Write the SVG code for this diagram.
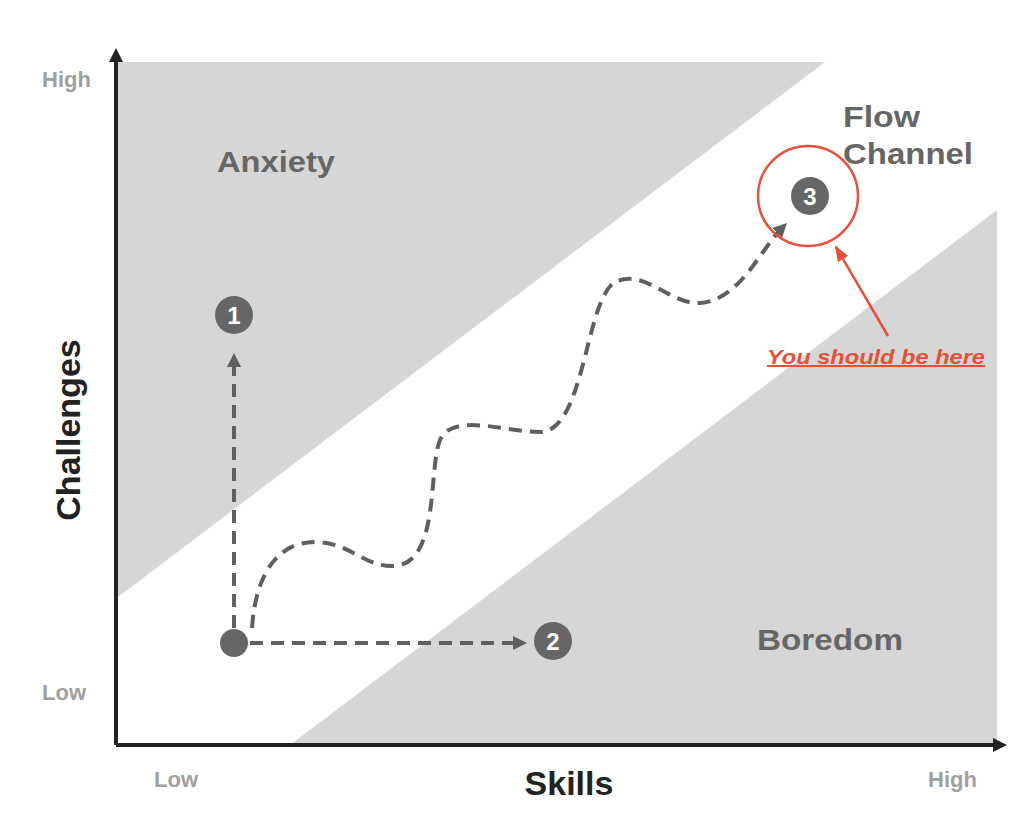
<svg xmlns="http://www.w3.org/2000/svg" width="1024" height="813" viewBox="0 0 1024 813">
<style>
.lbl{font-family:"Liberation Sans",Arial,sans-serif;font-weight:bold;fill:#666}
.num{font-family:"Liberation Sans",Arial,sans-serif;font-weight:bold;fill:#fff;font-size:24px;text-anchor:middle}
.dash{fill:none;stroke:#5f5f5f;stroke-width:4;stroke-dasharray:13 8}
</style>
<defs>
<marker id="ah" markerWidth="14" markerHeight="14" refX="7" refY="7" orient="auto" markerUnits="userSpaceOnUse" viewBox="0 0 14 14"><path d="M0,0L14,7L0,14z" fill="#5f5f5f"/></marker>
<marker id="ax" markerWidth="14" markerHeight="14" refX="10" refY="7" orient="auto" markerUnits="userSpaceOnUse" viewBox="0 0 14 14"><path d="M0,0L14,7L0,14z" fill="#222"/></marker>
<marker id="ar" markerWidth="16" markerHeight="16" refX="14" refY="8" orient="auto" markerUnits="userSpaceOnUse" viewBox="0 0 16 16"><path d="M0,2L16,8L0,14z" fill="#e5503a"/></marker>
</defs>
<rect width="1024" height="813" fill="#fff"/>
<g id="zones">
<polygon points="118,62 825,62 118,597" fill="#d6d6d6"/>
<polygon points="290,745 997,210 997,745" fill="#d6d6d6"/>
</g>
<g id="axes">
<line x1="116" y1="745" x2="116" y2="52" stroke="#222" stroke-width="4" marker-end="url(#ax)"/>
<line x1="116" y1="745" x2="1003" y2="745" stroke="#222" stroke-width="4" marker-end="url(#ax)"/>
</g>
<g id="labels">
<text class="lbl" x="42" y="87" font-size="22" style="fill:#a0a0a0">High</text>
<text class="lbl" x="42" y="700" font-size="22" style="fill:#a0a0a0">Low</text>
<text class="lbl" x="154" y="787" font-size="22" style="fill:#a0a0a0">Low</text>
<text class="lbl" x="928" y="787" font-size="22" style="fill:#a0a0a0">High</text>
<text class="lbl" x="569" y="795" font-size="34" text-anchor="middle" style="fill:#222">Skills</text>
<text class="lbl" x="0" y="0" font-size="34" text-anchor="middle" transform="translate(80,430) rotate(-90)" style="fill:#222">Challenges</text>
<text class="lbl" x="217" y="172" font-size="29" textLength="118" lengthAdjust="spacingAndGlyphs">Anxiety</text>
<text class="lbl" x="843" y="127" font-size="30" textLength="77" lengthAdjust="spacingAndGlyphs">Flow</text>
<text class="lbl" x="843" y="164" font-size="30" textLength="130" lengthAdjust="spacingAndGlyphs">Channel</text>
<text class="lbl" x="757" y="650" font-size="29" textLength="146" lengthAdjust="spacingAndGlyphs">Boredom</text>
</g>
<g id="connectors">
<line class="dash" x1="234" y1="628" x2="234" y2="360" marker-end="url(#ah)"/>
<line class="dash" x1="250" y1="643" x2="520" y2="643" marker-end="url(#ah)"/>
<path class="dash" d="M252,628 C256,570 280,542 315,542 C350,542 365,568 395,566 C440,562 428,470 440,440 C452,412 505,432 540,432 C585,432 585,300 615,282 C645,268 670,305 700,303 C740,300 760,250 782,228" marker-end="url(#ah)"/>
<line x1="888" y1="336" x2="836" y2="247" stroke="#e5503a" stroke-width="2.5" marker-end="url(#ar)"/>
</g>
<g id="start"><circle cx="234" cy="643" r="14" fill="#666"/></g>
<g id="n1"><circle cx="234" cy="315" r="19" fill="#666"/><text class="num" x="234" y="324">1</text></g>
<g id="n2"><circle cx="553" cy="641" r="19" fill="#666"/><text class="num" x="553" y="650">2</text></g>
<g id="n3"><circle cx="810" cy="196" r="19" fill="#666"/><text class="num" x="810" y="205">3</text>
<circle cx="808" cy="196" r="50" fill="none" stroke="#e5503a" stroke-width="2.5"/></g>
<g id="note"><text x="767" y="364" font-family="Liberation Sans,Arial,sans-serif" font-weight="bold" font-style="italic" font-size="20" fill="#e5503a" text-decoration="underline" textLength="218" lengthAdjust="spacingAndGlyphs">You should be here</text></g>
</svg>
